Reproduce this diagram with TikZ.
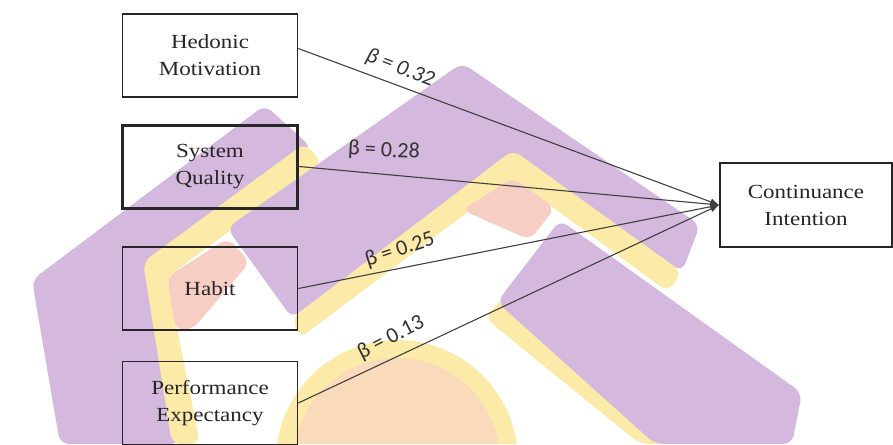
\documentclass[tikz,border=0pt]{standalone}
\usepackage{fontspec}
\setmainfont{Liberation Serif}
\newfontfamily\boxfont[FakeStretch=1.15]{Liberation Serif}
\newfontfamily\coeffont{Carlito}
\usepackage{tikz}
\usetikzlibrary{arrows.meta}
\usepackage{xcolor}

\definecolor{wmpurple}{RGB}{213,184,221}
\definecolor{wmyellow}{RGB}{252,234,168}
\definecolor{wmpeach}{RGB}{249,218,187}
\definecolor{wmpink}{RGB}{247,206,196}

\begin{document}
\begin{tikzpicture}[x=1pt, y=-1pt,
    var/.style={draw=black!85, line width=1.6pt, minimum width=175pt, minimum height=83pt,
        align=center, font=\boxfont\fontsize{20}{27}\selectfont, text=black!85},
    link/.style={draw=black!75, line width=1.1pt, -{Latex[length=9pt,width=7pt]}},
    coef/.style={font=\coeffont\fontsize{22}{24}\selectfont, text=black!80}]
    \useasboundingbox (0,0) rectangle (893,444);

    % Background logo
    \begin{scope}[rounded corners=9pt]
        \clip (0,0) rectangle (893,444);
        \fill[wmpurple] (32,280) -- (265,105) -- (312,148) -- (150,265) -- (180,444) -- (60,444) -- cycle;
        \fill[wmyellow] (143,262) -- (305,143) -- (322,163) -- (167,277) -- (200,444) -- (172,444) -- cycle;
        \fill[wmpink] (167,277) -- (228,238) -- (250,262) -- (192,330) -- (176,330) -- cycle;
        \fill[wmpurple] (227,228) -- (462,63) -- (700,225) -- (682,272) -- (513,152) -- (292,318) -- cycle;
        \fill[wmyellow] (292,318) -- (513,150) -- (682,272) -- (668,292) -- (513,178) -- (300,338) -- cycle;
        \fill[wmyellow] (397,461) circle (121);
        \fill[wmpeach] (397,461) circle (103);
        \fill[wmpink] (462,210) -- (513,178) -- (555,208) -- (530,240) -- cycle;
        \fill[wmyellow] (485,318) -- (505,296) -- (670,444) -- (640,444) -- cycle;
        \fill[wmpurple] (497,302) -- (560,220) -- (802,393) -- (792,444) -- (655,444) -- cycle;
    \end{scope}

    % Define the constructs
    \node[var] (hm) at (210,55.5) {Hedonic\\Motivation};
    \node[var, line width=3pt] (sq) at (210,166.5) {System\\Quality};
    \node[var] (hab) at (210,288.5) {Habit};
    \node[var] (pe) at (210,403) {Performance\\Expectancy};
    \node[var, minimum width=172pt, minimum height=84pt] (ci) at (806,205) {Continuance\\Intention};

    % Draw the paths
    \draw[link] ([yshift=7pt]hm.east) -- (ci.west);
    \draw[link] (sq.east) -- (ci.west);
    \draw[link] (hab.east) -- (ci.west);
    \draw[link] (pe.east) -- (ci.west);

    % Path coefficients
    \node[coef, rotate=-21] (b1) at (400,68) {\itshape β = 0.32};
    \node[coef, rotate=-3] (b2) at (384,151) {β = 0.28};
    \node[coef, rotate=18] (b3) at (400,250) {β = 0.25};
    \node[coef, rotate=27] (b4) at (391,338) {β = 0.13};
\end{tikzpicture}
\end{document}
